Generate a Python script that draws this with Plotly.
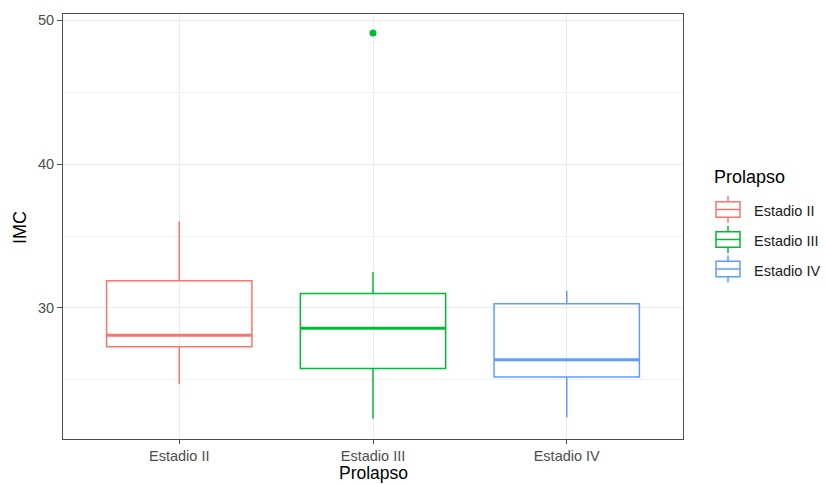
import plotly.graph_objects as go

# Summary statistics of IMC by prolapse stage
stages = ["Estadio II", "Estadio III", "Estadio IV"]
lower_whisker = [24.7, 22.3, 22.4]
q1 = [27.3, 25.8, 25.2]
median = [28.1, 28.6, 26.4]
q3 = [31.9, 31.0, 30.3]
upper_whisker = [36.0, 32.5, 31.2]
outlier_stage = ["Estadio III"]
outlier_value = [49.1]

colors = ["#F8766D", "#00BA38", "#619CFF"]
pos = {s: i + 1 for i, s in enumerate(stages)}
half = 0.375

W, H = 825, 484
L, R, T, B = 63, 683, 14, 439
FONT = "Liberation Sans, Arial, sans-serif"

fig = go.Figure()

for i, s in enumerate(stages):
    x = pos[s]
    fig.add_trace(go.Box(
        x=[x], q1=[q1[i]], median=[median[i]], q3=[q3[i]],
        lowerfence=[lower_whisker[i]], upperfence=[upper_whisker[i]],
        width=2 * half, whiskerwidth=0,
        line=dict(color=colors[i], width=1.5),
        fillcolor="rgba(255,255,255,0)",
        boxpoints=False, showlegend=False, hoverinfo="skip",
    ))
    # thicker median bar
    fig.add_trace(go.Scatter(
        x=[x - half, x + half], y=[median[i], median[i]], mode="lines",
        line=dict(color=colors[i], width=3), showlegend=False, hoverinfo="skip",
    ))

for s, v in zip(outlier_stage, outlier_value):
    fig.add_trace(go.Scatter(
        x=[pos[s]], y=[v], mode="markers",
        marker=dict(color=colors[stages.index(s)], size=7),
        showlegend=False, hoverinfo="skip",
    ))


def px(xp):
    return (xp - L) / (R - L)


def py(yp):
    return (B - yp) / (B - T)


shapes = []
annotations = [
    # axis titles
    dict(x=px(373), y=py(483.5), xref="paper", yref="paper", text="Prolapso",
         showarrow=False, xanchor="center", yanchor="bottom", borderpad=0,
         font=dict(size=17.5, color="#000000", family=FONT)),
    dict(x=px(20), y=py(228), xref="paper", yref="paper", text="IMC", textangle=-90,
         showarrow=False, xanchor="center", yanchor="middle",
         font=dict(size=18, color="#000000", family=FONT)),
    # legend title
    dict(x=px(712), y=py(177), xref="paper", yref="paper", text="Prolapso",
         showarrow=False, xanchor="left", yanchor="middle",
         font=dict(size=18, color="#000000", family=FONT)),
]

# Legend keys drawn in the right margin
key_centers = [209.5, 239.5, 269.0]
for i, s in enumerate(stages):
    cy = key_centers[i]
    c = colors[i]
    shapes.append(dict(type="line", xref="paper", yref="paper",
                       x0=px(728), x1=px(728), y0=py(cy - 13.5), y1=py(cy + 13.5),
                       line=dict(color=c, width=1.5)))
    shapes.append(dict(type="rect", xref="paper", yref="paper",
                       x0=px(716), x1=px(740), y0=py(cy + 7.8), y1=py(cy - 7.8),
                       line=dict(color=c, width=1.5), fillcolor="white"))
    shapes.append(dict(type="line", xref="paper", yref="paper",
                       x0=px(716), x1=px(740), y0=py(cy), y1=py(cy),
                       line=dict(color=c, width=1.5)))
    annotations.append(dict(
        x=px(752), y=py(cy + 1.5), xref="paper", yref="paper", text=s, showarrow=False,
        xanchor="left", yanchor="middle", font=dict(size=14.5, color="#1a1a1a", family=FONT),
    ))

fig.update_layout(
    width=W, height=H,
    margin=dict(l=L, r=W - R, t=T, b=H - B, pad=0),
    paper_bgcolor="white", plot_bgcolor="white",
    font=dict(family=FONT, color="#4D4D4D"),
    showlegend=False,
    shapes=shapes, annotations=annotations,
    xaxis=dict(
        range=[0.4, 3.6], tickmode="array",
        tickvals=[pos[s] for s in stages], ticktext=stages,
        showgrid=True, gridcolor="#EBEBEB", gridwidth=1.2,
        zeroline=False, showline=True, linecolor="#4D4D4D", linewidth=1, mirror=True,
        ticks="outside", ticklen=4, tickcolor="#4D4D4D", tickwidth=1,
        tickfont=dict(size=14.5, color="#4D4D4D"),
        automargin=False,
    ),
    yaxis=dict(
        range=[20.9, 50.42], tickmode="linear", tick0=0, dtick=10,
        showgrid=True, gridcolor="#EBEBEB", gridwidth=1.2,
        minor=dict(dtick=5, tick0=0, showgrid=True, gridcolor="#F2F2F2", gridwidth=0.8),
        zeroline=False, showline=True, linecolor="#4D4D4D", linewidth=1, mirror=True,
        ticks="outside", ticklen=5, tickcolor="#4D4D4D", tickwidth=1,
        tickfont=dict(size=14.5, color="#4D4D4D"),
        automargin=False,
    ),
)

fig.write_html("out.html")
